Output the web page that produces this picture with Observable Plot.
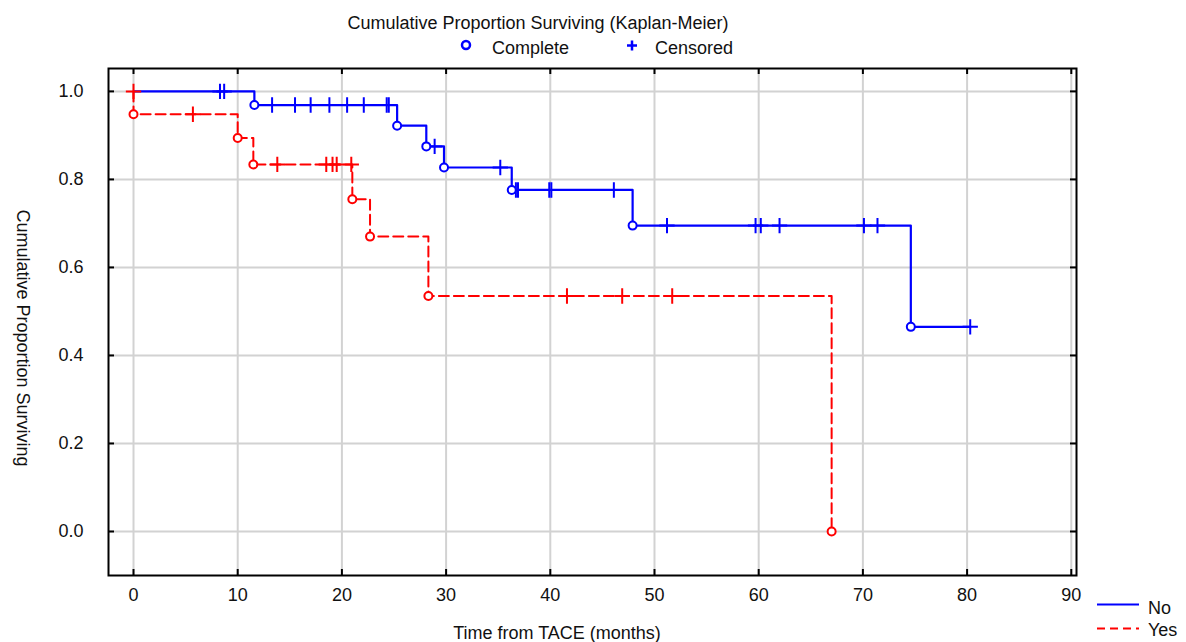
<!DOCTYPE html>
<html>
<head>
<meta charset="utf-8">
<script src="https://cdn.jsdelivr.net/npm/d3@7"></script>
<script src="https://cdn.jsdelivr.net/npm/@observablehq/plot@0.6"></script>
<style>
  html, body { margin: 0; padding: 0; background: #fff; }
  #wrap { position: relative; width: 1186px; height: 642px; overflow: hidden; font-family: "Liberation Sans", Arial, sans-serif; }
  #wrap > svg { position: absolute; left: 0; top: 0; }
  #overlay { pointer-events: none; }
</style>
</head>
<body>
<div id="wrap"></div>
<script>
// ---- Data ----
const xTicks = [0, 10, 20, 30, 40, 50, 60, 70, 80, 90];
const yTicks = [0, 0.2, 0.4, 0.6, 0.8, 1.0];

// Group "No" (blue, solid)
const noEventTimes = [11.6, 25.3, 28.1, 29.8, 36.3, 47.9, 74.6];
const noEventSurv  = [0.969, 0.922, 0.875, 0.827, 0.776, 0.695, 0.465];
const noCensorTimes = [8.3, 8.7, 13.3, 15.5, 17.0, 18.8, 20.5, 22.1, 24.3, 24.5,
                       28.9, 35.2, 36.7, 36.9, 39.9, 40.1, 46.1, 51.2, 59.7, 60.2,
                       62.0, 70.1, 71.4, 80.3];

// Group "Yes" (red, dashed)
const yesEventTimes = [0.0, 10.0, 11.5, 21.0, 22.7, 28.3, 67.0];
const yesEventSurv  = [0.948, 0.894, 0.834, 0.755, 0.670, 0.535, 0.0];
const yesCensorTimes = [0.0, 5.7, 13.8, 18.5, 19.1, 19.5, 20.9, 41.6, 46.9, 51.7];

const groupNames = ["No", "Yes"];
const groupColors = ["#0000ff", "#ff0000"];

// ---- Build KM step data ----
function buildGroup(name, evT, evS, cT) {
  const events = evT.map((t, i) => ({ group: name, t, s: evS[i] }));
  const survAt = (t) => {
    let s = 1;
    for (const e of events) if (e.t < t) s = e.s;
    return s;
  };
  const censors = cT.map(t => ({ group: name, t, s: survAt(t) }));
  const lastT = Math.max(d3.max(evT), d3.max(cT));
  const line = [{ group: name, t: 0, s: 1 }, ...events];
  const last = line[line.length - 1];
  if (lastT > last.t) line.push({ group: name, t: lastT, s: last.s });
  return { events, censors, line };
}
const gNo = buildGroup(groupNames[0], noEventTimes, noEventSurv, noCensorTimes);
const gYes = buildGroup(groupNames[1], yesEventTimes, yesEventSurv, yesCensorTimes);

const W = 1186, H = 642;
const mTop = 68, mBottom = 67, mLeft = 108, mRight = 110;
const frameW = W - mLeft - mRight, frameH = H - mTop - mBottom;
const tickLen = 6;

const plot = Plot.plot({
  width: W, height: H,
  marginTop: mTop, marginBottom: mBottom, marginLeft: mLeft, marginRight: mRight,
  style: { fontFamily: "'Liberation Sans', Arial, sans-serif", fontSize: "18px", color: "#000", background: "transparent" },
  x: { domain: [-2.4, 90.5] },
  y: { domain: [-0.1, 1.052] },
  marks: [
    Plot.gridX(xTicks, { stroke: "#d2d2d2", strokeOpacity: 1, strokeWidth: 2 }),
    Plot.gridY(yTicks, { stroke: "#d2d2d2", strokeOpacity: 1, strokeWidth: 2 }),
    Plot.line(gYes.line, { x: "t", y: "s", curve: "step-after", stroke: groupColors[1], strokeWidth: 2, strokeDasharray: "10,5" }),
    Plot.line(gNo.line, { x: "t", y: "s", curve: "step-after", stroke: groupColors[0], strokeWidth: 2.2 }),
    Plot.dot(gYes.censors, { x: "t", y: "s", symbol: "plus", r: 5, stroke: groupColors[1], strokeWidth: 2 }),
    Plot.dot(gNo.censors, { x: "t", y: "s", symbol: "plus", r: 5, stroke: groupColors[0], strokeWidth: 2 }),
    Plot.dot(gYes.events, { x: "t", y: "s", r: 4, stroke: groupColors[1], fill: "white", strokeWidth: 2 }),
    Plot.dot(gNo.events, { x: "t", y: "s", r: 4, stroke: groupColors[0], fill: "white", strokeWidth: 2 }),
    Plot.frame({ stroke: "#000", strokeWidth: 2 }),
    Plot.tickX(xTicks, { x: d => d, insetTop: frameH - tickLen, stroke: "#000", strokeWidth: 2 }),
    Plot.tickX(xTicks, { x: d => d, insetBottom: frameH - tickLen, stroke: "#000", strokeWidth: 2 }),
    Plot.tickY(yTicks, { y: d => d, insetRight: frameW - tickLen, stroke: "#000", strokeWidth: 2 }),
    Plot.tickY(yTicks, { y: d => d, insetLeft: frameW - tickLen, stroke: "#000", strokeWidth: 2 }),
    Plot.axisX(xTicks, { tickSize: 0, tickPadding: 13, label: null, fontSize: 18, fill: "#111" }),
    Plot.axisY(yTicks, { tickSize: 0, tickPadding: 25, label: null, fontSize: 18, fill: "#111", tickFormat: d3.format(".1f") })
  ]
});
document.getElementById("wrap").appendChild(plot);

// ---- Titles and legends (overlay) ----
const ov = d3.select("#wrap").append("svg")
  .attr("id", "overlay")
  .attr("width", W).attr("height", H)
  .style("font-family", "'Liberation Sans', Arial, sans-serif")
  .style("font-size", "18px");

ov.append("text").attr("x", 538).attr("y", 28.5).attr("text-anchor", "middle").attr("fill", "#111")
  .text("Cumulative Proportion Surviving (Kaplan-Meier)");

// top legend
ov.append("circle").attr("cx", 466).attr("cy", 45).attr("r", 4).attr("fill", "none")
  .attr("stroke", groupColors[0]).attr("stroke-width", 2.5);
ov.append("text").attr("x", 492).attr("y", 53.5).attr("fill", "#111").text("Complete");
ov.append("path").attr("d", "M627,45.5H637M632,40.5V50.5").attr("stroke", groupColors[0]).attr("stroke-width", 2.5);
ov.append("text").attr("x", 655).attr("y", 53.5).attr("fill", "#111").text("Censored");

// axis titles
ov.append("text").attr("transform", "translate(17,338) rotate(90)").attr("text-anchor", "middle").attr("fill", "#111")
  .text("Cumulative Proportion Surviving");
ov.append("text").attr("x", 557).attr("y", 638.5).attr("text-anchor", "middle").attr("fill", "#111")
  .text("Time from TACE (months)");

// bottom-right legend
ov.append("line").attr("x1", 1097).attr("x2", 1139).attr("y1", 604.5).attr("y2", 604.5)
  .attr("stroke", groupColors[0]).attr("stroke-width", 2);
ov.append("text").attr("x", 1148).attr("y", 614).attr("fill", "#111").text(groupNames[0]);
ov.append("line").attr("x1", 1097).attr("x2", 1139).attr("y1", 628.5).attr("y2", 628.5)
  .attr("stroke", groupColors[1]).attr("stroke-width", 2).attr("stroke-dasharray", "8,5");
ov.append("text").attr("x", 1148).attr("y", 636).attr("fill", "#111").text(groupNames[1]);
</script>
</body>
</html>
